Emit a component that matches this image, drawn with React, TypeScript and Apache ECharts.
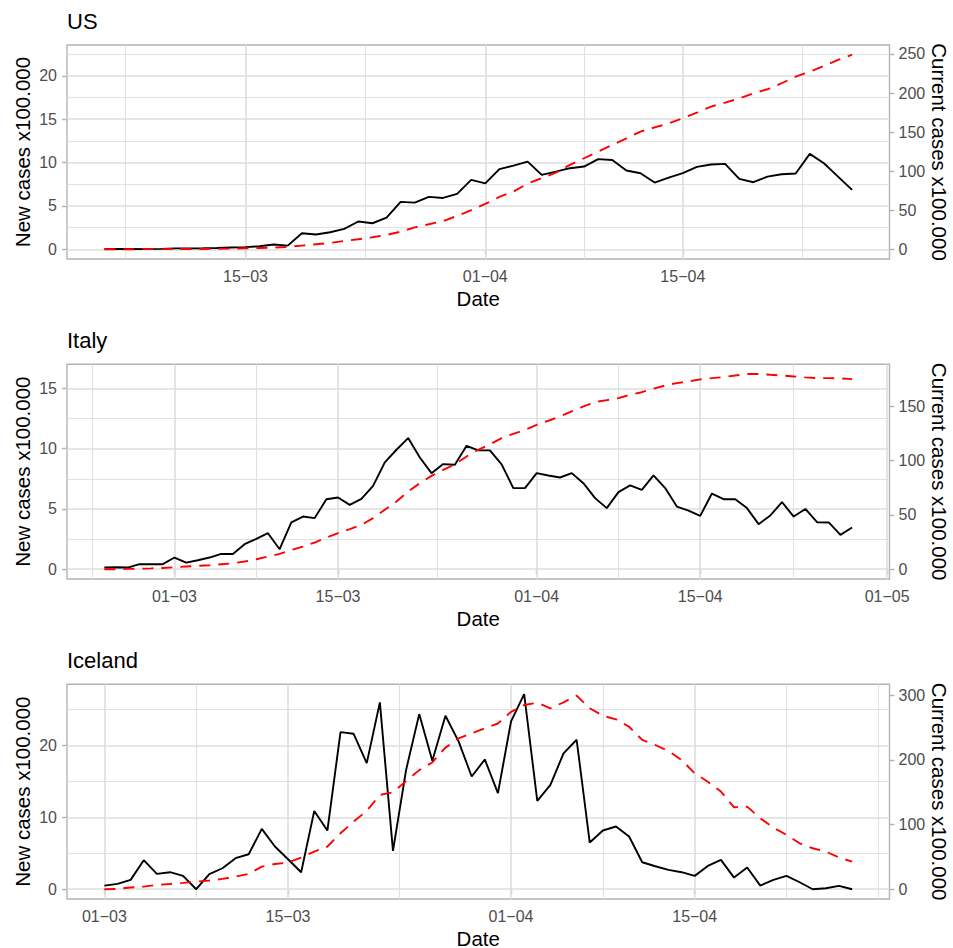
import React, { useEffect, useRef } from "react";
import * as echarts from "echarts";

// ---------------- data ----------------
const usDates = [
  "03-05","03-06","03-07","03-08","03-09","03-10","03-11","03-12","03-13","03-14",
  "03-15","03-16","03-17","03-18","03-19","03-20","03-21","03-22","03-23","03-24",
  "03-25","03-26","03-27","03-28","03-29","03-30","03-31",
  "04-01","04-02","04-03","04-04","04-05","04-06","04-07","04-08","04-09","04-10",
  "04-11","04-12","04-13","04-14","04-15","04-16","04-17","04-18","04-19","04-20",
  "04-21","04-22","04-23","04-24","04-25","04-26","04-27",
];
const usNew = [
  0.02, 0.03, 0.03, 0.02, 0.05, 0.1, 0.1, 0.12, 0.15, 0.2,
  0.25, 0.35, 0.55, 0.42, 1.85, 1.7, 1.96, 2.35, 3.2, 3.0,
  3.65, 5.46, 5.38, 6.04, 5.92, 6.38, 8.0, 7.6, 9.25, 9.65,
  10.1, 8.58, 8.96, 9.35, 9.54, 10.4, 10.3, 9.08, 8.77, 7.69,
  8.27, 8.77, 9.5, 9.77, 9.85, 8.12, 7.73, 8.38, 8.65, 8.73,
  11.0, 9.92, 8.38, 6.85,
];
const usCurrent = [
  0, 0.1, 0.1, 0.2, 0.2, 0.3, 0.3, 0.4, 0.5, 0.85,
  1.3, 1.7, 2.1, 3.0, 4.7, 6.4, 8.1, 10.7, 12.8, 15.4,
  18.3, 22.6, 28, 32, 36, 42.7, 50, 58, 67, 74,
  84, 91, 98, 108, 116.5, 125, 133.5, 142, 150.6, 156,
  161, 167.7, 175, 182.6, 187.7, 193, 199.7, 204.8, 212.5, 221,
  227.4, 234.6, 242.3, 249,
];

const itDates = [
  "02-24","02-25","02-26","02-27","02-28","02-29",
  "03-01","03-02","03-03","03-04","03-05","03-06","03-07","03-08","03-09","03-10",
  "03-11","03-12","03-13","03-14","03-15","03-16","03-17","03-18","03-19","03-20",
  "03-21","03-22","03-23","03-24","03-25","03-26","03-27","03-28","03-29","03-30","03-31",
  "04-01","04-02","04-03","04-04","04-05","04-06","04-07","04-08","04-09","04-10",
  "04-11","04-12","04-13","04-14","04-15","04-16","04-17","04-18","04-19","04-20",
  "04-21","04-22","04-23","04-24","04-25","04-26","04-27","04-28",
];
const itNew = [
  0.14, 0.17, 0.14, 0.42, 0.42, 0.42, 0.97, 0.55, 0.75, 0.97,
  1.27, 1.27, 2.08, 2.52, 2.99, 1.66, 3.88, 4.37, 4.24, 5.81,
  5.95, 5.34, 5.84, 6.92, 8.86, 9.91, 10.88, 9.27, 7.97, 8.72,
  8.67, 10.24, 9.86, 9.86, 8.7, 6.73, 6.73, 7.97, 7.78, 7.61,
  7.97, 7.14, 5.9, 5.07, 6.4, 6.95, 6.59, 7.78, 6.73, 5.2,
  4.87, 4.43, 6.28, 5.81, 5.81, 5.07, 3.74, 4.46, 5.56, 4.37,
  5.0, 3.9, 3.88, 2.85, 3.46,
];
const itCurrent = [
  0, 0, 0.3, 0.5, 0.8, 1.2, 1.8, 2.5, 3.1, 3.7,
  4.6, 5.5, 7.1, 9.2, 11.7, 14.1, 17.8, 20.9, 24.6, 29.2,
  33.2, 36.9, 40.8, 47, 54.7, 62.3, 71.6, 79.2, 86, 91.5,
  96.7, 103.8, 110, 115, 120.7, 124.7, 128.4, 133, 136.7, 140.7,
  145.3, 149.9, 153.9, 155.7, 157.6, 160.6, 163, 166.2, 169.2, 171.4,
  172.9, 174.8, 176, 176.9, 178.4, 179.7, 179.7, 179, 178.4, 177.5,
  176.6, 176, 176, 175.7, 175,
];

const isDates = [
  "03-01","03-02","03-03","03-04","03-05","03-06","03-07","03-08","03-09","03-10",
  "03-11","03-12","03-13","03-14","03-15","03-16","03-17","03-18","03-19","03-20",
  "03-21","03-22","03-23","03-24","03-25","03-26","03-27","03-28","03-29","03-30","03-31",
  "04-01","04-02","04-03","04-04","04-05","04-06","04-07","04-08","04-09","04-10",
  "04-11","04-12","04-13","04-14","04-15","04-16","04-17","04-18","04-19","04-20",
  "04-21","04-22","04-23","04-24","04-25","04-26","04-27",
];
const isNew = [
  0.51, 0.74, 1.3, 4.04, 2.14, 2.37, 1.86, 0, 2.09, 2.92,
  4.32, 4.87, 8.4, 5.94, 4.18, 2.37, 10.9, 8.17, 21.87, 21.63,
  17.55, 26.0, 5.34, 16.6, 24.37, 17.87, 24.14, 20.57, 15.69, 18.06,
  13.37, 23.35, 27.16, 12.3, 14.53, 18.9, 20.8, 6.5, 8.17, 8.73,
  7.34, 3.76, 3.2, 2.69, 2.37, 1.86, 3.25, 4.09, 1.62, 3.02,
  0.51, 1.3, 1.86, 0.97, 0, 0.14, 0.46, 0,
];
const isCurrent = [
  0, 0.5, 2.6, 4.1, 6.7, 8.2, 9.8, 11.8, 13.4, 16,
  19.6, 23.7, 35, 39, 41.2, 49, 58, 66, 86.5, 104.5,
  121, 145.6, 149.8, 167, 184, 196, 218.7, 233, 240.9, 248.6,
  256, 274, 284.6, 288, 279.5, 288.7, 299, 279.5, 268, 262.5,
  251, 230.6, 222.8, 213.6, 199.7, 179, 166, 150.8, 126.6, 127.6,
  109.6, 95.2, 83.9, 71, 63.3, 58, 49, 42.7,
];

// secondary-axis coefficient (current = new-scale * K)
const K = 11.1;

// axis breaks
const usMajorX = ["03-15", "04-01", "04-15"];
const usMinorX = ["03-06.5", "03-23.5", "04-08", "04-23.5"];
const itMajorX = ["03-01", "03-15", "04-01", "04-15", "05-01"];
const itMinorX = ["02-23", "03-08", "03-23.5", "04-08", "04-23"];
const isMajorX = ["03-01", "03-15", "04-01", "04-15"];
const isMinorX = ["03-08", "03-23.5", "04-08", "04-22", "04-29"];

const usLeftTicks = [0, 5, 10, 15, 20];
const usLeftMinor = [2.5, 7.5, 12.5, 17.5, 22.5];
const usRightTicks = [0, 50, 100, 150, 200, 250];
const itLeftTicks = [0, 5, 10, 15];
const itLeftMinor = [2.5, 7.5, 12.5];
const itRightTicks = [0, 50, 100, 150];
const isLeftTicks = [0, 10, 20];
const isLeftMinor = [5, 15, 25];
const isRightTicks = [0, 100, 200, 300];

const titles = ["US", "Italy", "Iceland"];

// ---------------- helpers ----------------
const toDay = (s: string) => {
  const [m, d] = s.split("-");
  const day = parseFloat(d);
  const whole = Math.floor(day);
  return Date.UTC(2020, parseInt(m, 10) - 1, whole) / 864e5 + (day - whole);
};
const fmtDay = (v: number) => {
  const dt = new Date(Math.round(v) * 864e5);
  const dd = String(dt.getUTCDate()).padStart(2, "0");
  const mm = String(dt.getUTCMonth() + 1).padStart(2, "0");
  return dd + "\u2212" + mm;
};

const FONT = "'Liberation Sans', Arial, Helvetica, sans-serif";
const TICK_COLOR = "#b3b3b3";
const GRID_COLOR = "#dedede";
const LABEL_COLOR = "#4d4d4d";

const panels = [
  { title: titles[0], dates: usDates, nw: usNew, cur: usCurrent, majX: usMajorX, minX: usMinorX, lT: usLeftTicks, lM: usLeftMinor, rT: usRightTicks },
  { title: titles[1], dates: itDates, nw: itNew, cur: itCurrent, majX: itMajorX, minX: itMinorX, lT: itLeftTicks, lM: itLeftMinor, rT: itRightTicks },
  { title: titles[2], dates: isDates, nw: isNew, cur: isCurrent, majX: isMajorX, minX: isMinorX, lT: isLeftTicks, lM: isLeftMinor, rT: isRightTicks },
];

const layout = [
  { top: 45, height: 214 },
  { top: 364.3, height: 214.7 },
  { top: 684.3, height: 214.7 },
];

function buildOption() {
  const grid: any[] = [];
  const xAxis: any[] = [];
  const yAxis: any[] = [];
  const series: any[] = [];
  const title: any[] = [];

  panels.forEach((p, i) => {
    const L = layout[i];
    grid.push({
      left: 67, right: 63.5, top: L.top, height: L.height,
      outerBoundsMode: "none", containLabel: false,
      show: true, borderColor: TICK_COLOR, borderWidth: 1.4, backgroundColor: "#ffffff",
    });
    title.push({
      text: p.title, left: 67, top: L.top - 35, padding: 0,
      textStyle: { fontSize: 22, fontWeight: "normal", color: "#000", fontFamily: FONT },
    });

    const days = p.dates.map(toDay);
    const d0 = days[0];
    const d1 = days[days.length - 1];
    const span = d1 - d0;
    const majX = p.majX.map(toDay);
    const minX = p.minX.map(toDay);

    xAxis.push({
      type: "value", gridIndex: i,
      min: d0 - 0.05 * span, max: d1 + 0.05 * span,
      axisLine: { show: false },
      axisTick: { show: true, customValues: majX, length: 5, lineStyle: { color: TICK_COLOR, width: 1.4 } },
      axisLabel: { customValues: majX, formatter: fmtDay, fontSize: 16, color: LABEL_COLOR, margin: 9, fontFamily: FONT },
      splitLine: { show: false },
      name: "Date", nameLocation: "middle", nameGap: 31, nameMoveOverlap: false,
      nameTextStyle: { fontSize: 20.5, lineHeight: 16, color: "#000", fontFamily: FONT },
    });

    const R = Math.max(Math.max(...p.nw), Math.max(...p.cur) / K);
    const lmin = -0.05 * R;
    const lmax = 1.05 * R;

    yAxis.push({
      type: "value", gridIndex: i, position: "left",
      min: lmin, max: lmax,
      axisLine: { show: false },
      axisTick: { show: true, customValues: p.lT, length: 5, lineStyle: { color: TICK_COLOR, width: 1.4 } },
      axisLabel: { customValues: p.lT, fontSize: 16, color: LABEL_COLOR, margin: 10, fontFamily: FONT },
      splitLine: { show: false },
      name: "New cases x100.000", nameLocation: "middle", nameRotate: 90, nameGap: 34, nameMoveOverlap: false,
      nameTextStyle: { fontSize: 20.5, color: "#000", fontFamily: FONT },
    });
    yAxis.push({
      type: "value", gridIndex: i, position: "right",
      min: lmin * K, max: lmax * K,
      axisLine: { show: false },
      axisTick: { show: true, customValues: p.rT, length: 5, lineStyle: { color: TICK_COLOR, width: 1.4 } },
      axisLabel: { customValues: p.rT, fontSize: 16, color: LABEL_COLOR, margin: 9, fontFamily: FONT },
      splitLine: { show: false },
      name: "Current cases x100.000", nameLocation: "middle", nameRotate: -90, nameGap: 39, nameMoveOverlap: false,
      nameTextStyle: { fontSize: 20.5, color: "#000", fontFamily: FONT },
    });

    const major = { color: GRID_COLOR, width: 1.6, type: "solid" };
    const minor = { color: GRID_COLOR, width: 0.9, type: "solid" };
    const lines: any[] = [];
    minX.forEach((v) => lines.push({ xAxis: v, lineStyle: minor }));
    p.lM.forEach((v) => lines.push({ yAxis: v, lineStyle: minor }));
    majX.forEach((v) => lines.push({ xAxis: v, lineStyle: major }));
    p.lT.forEach((v) => lines.push({ yAxis: v, lineStyle: major }));

    series.push({
      type: "line", xAxisIndex: i, yAxisIndex: 2 * i, data: [], z: 1, silent: true,
      markLine: {
        silent: true, z: 1, symbol: ["none", "none"], animation: false,
        label: { show: false }, emphasis: { disabled: true },
        data: lines,
      },
    });
    series.push({
      type: "line", xAxisIndex: i, yAxisIndex: 2 * i, z: 3,
      data: days.map((d, j) => [d, p.nw[j]]),
      showSymbol: false, symbol: "none",
      lineStyle: { color: "#000000", width: 1.9 },
      emphasis: { disabled: true },
    });
    series.push({
      type: "line", xAxisIndex: i, yAxisIndex: 2 * i + 1, z: 4,
      data: days.map((d, j) => [d, p.cur[j]]),
      showSymbol: false, symbol: "none",
      lineStyle: { color: "#ff0000", width: 1.9, type: [11, 8] },
      emphasis: { disabled: true },
    });
  });

  return { animation: false, backgroundColor: "#ffffff", title, grid, xAxis, yAxis, series };
}

export default function App() {
  const ref = useRef<HTMLDivElement>(null);
  useEffect(() => {
    document.body.style.margin = "0";
    if (!ref.current) return;
    const chart = echarts.init(ref.current, undefined, { renderer: "svg" });
    chart.setOption(buildOption() as any);
    return () => chart.dispose();
  }, []);
  return <div ref={ref} style={{ width: 953, height: 948 }} />;
}
